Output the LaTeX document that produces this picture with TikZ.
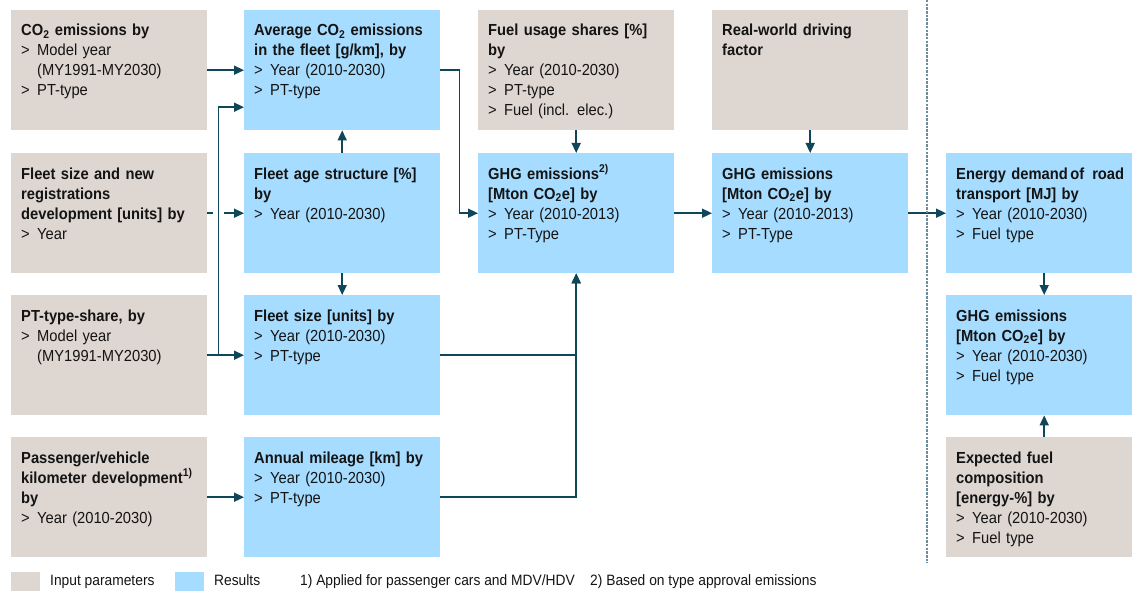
\documentclass[tikz,border=0pt]{standalone}
\usepackage{fontspec}
\setmainfont{Liberation Sans}[FakeStretch=0.92]
\usetikzlibrary{arrows.meta,calc}
\definecolor{inbg}{RGB}{222,214,208}
\definecolor{resbg}{RGB}{166,220,255}
\definecolor{conn}{RGB}{16,70,90}
\definecolor{divc}{RGB}{110,140,155}
\definecolor{txt}{RGB}{20,20,20}
\newcommand{\itm}[1]{\makebox[16pt][l]{>}#1}
\newcommand{\cnt}[1]{\hspace*{16pt}#1}
\newcommand{\cotwo}{CO\textsubscript{2}}
\newcommand{\bx}[4]{\node[#1] (#2) at #3 {};
  \node[btxt] (#2t) at ([xshift=10pt,yshift=-26pt]#2.north west) {#4};}
\begin{document}
\begin{tikzpicture}[x=1pt,y=-1pt,
  box/.style={draw=none,minimum width=196pt,minimum height=120pt,inner sep=0pt,anchor=north west},
  inbox/.style={box,fill=inbg},
  resbox/.style={box,fill=resbg},
  btxt/.style={anchor=base west,inner sep=0pt,text width=190pt,align=left,font=\fontsize{16}{20}\selectfont,text=txt},
  legtxt/.style={anchor=base west,inner sep=0pt,font=\fontsize{15}{17}\selectfont,text=txt},
  swatch/.style={anchor=north west,inner sep=0pt,minimum width=29pt,minimum height=22pt},
  ln/.style={draw=conn,line width=1.6pt},
  arr/.style={ln,-{Triangle[length=10pt,width=9pt]}},
  divider/.style={draw=divc,line width=1.4pt,dash pattern=on 2.5pt off 1.2pt}]
\fill[white] (0,0) rectangle (1132,591);
\useasboundingbox (0,0) rectangle (1132,591);
% column 1 (inputs)
\bx{inbox}{co2}{(11,10)}{{\bfseries \cotwo{} emissions by}\\\itm{Model year}\\\cnt{(MY1991-MY2030)}\\\itm{PT-type}}
\bx{inbox}{fleetnew}{(11,153)}{{\bfseries Fleet size and new\\registrations\\development [units] by}\\\itm{Year}}
\bx{inbox}{ptshare}{(11,295)}{{\bfseries PT-type-share, by}\\\itm{Model year}\\\cnt{(MY1991-MY2030)}}
\bx{inbox}{pkm}{(11,437)}{{\bfseries Passenger/vehicle\\kilometer development\textsuperscript{1)}\\by}\\\itm{Year (2010-2030)}}
% column 2 (results)
\bx{resbox}{avg}{(244,10)}{{\bfseries Average \cotwo{} emissions\\in the fleet [g/km], by}\\\itm{Year (2010-2030)}\\\itm{PT-type}}
\bx{resbox}{age}{(244,153)}{{\bfseries Fleet age structure [\%]\\by}\\\itm{Year (2010-2030)}}
\bx{resbox}{fsize}{(244,295)}{{\bfseries Fleet size [units] by}\\\itm{Year (2010-2030)}\\\itm{PT-type}}
\bx{resbox}{mileage}{(244,437)}{{\bfseries Annual mileage [km] by}\\\itm{Year (2010-2030)}\\\itm{PT-type}}
% column 3
\bx{inbox}{fuel}{(478,10)}{{\bfseries Fuel usage shares [\%]\\by}\\\itm{Year (2010-2030)}\\\itm{PT-type}\\\itm{Fuel (incl. elec.)}}
\bx{resbox}{ghga}{(478,153)}{{\bfseries GHG emissions\textsuperscript{2)}\\{}[Mton \cotwo{}e] by}\\\itm{Year (2010-2013)}\\\itm{PT-Type}}
% column 4
\bx{inbox}{rw}{(712,10)}{{\bfseries Real-world driving\\factor}}
\bx{resbox}{ghgb}{(712,153)}{{\bfseries GHG emissions\\{}[Mton \cotwo{}e] by}\\\itm{Year (2010-2013)}\\\itm{PT-Type}}
% column 5
\bx{resbox}{energy}{(946,153)}{{\bfseries Energy demand\hspace{2.5pt}of\hspace{8pt}road\\transport [MJ] by}\\\itm{Year (2010-2030)}\\\itm{Fuel type}}
\bx{resbox}{ghgc}{(946,295)}{{\bfseries GHG emissions\\{}[Mton \cotwo{}e] by}\\\itm{Year (2010-2030)}\\\itm{Fuel type}}
\bx{inbox}{expfuel}{(946,437)}{{\bfseries Expected fuel\\composition\\{}[energy-\%] by}\\\itm{Year (2010-2030)}\\\itm{Fuel type}}
% divider
\coordinate (divtop) at (927,0);
\coordinate (divbot) at (927,563);
% connectors
\draw[arr] (co2.east) -- (avg.west);
\draw[ln] (fleetnew.east) -- ++(6,0);
\draw[arr] ([xshift=-20pt]age.west) -- (age.west);
\draw[arr] (ptshare.east) -- (fsize.west);
\draw[arr] ([xshift=11pt]ptshare.east) |- ([yshift=-37pt]avg.west);
\draw[arr] (pkm.east) -- (mileage.west);
\draw[arr] (age.north) -- (avg.south);
\draw[arr] (age.south) -- (fsize.north);
\draw[arr] (avg.east) -- ++(19,0) |- (ghga.west);
\draw[arr] (fsize.east) -| (ghga.south);
\draw[arr] (mileage.east) -| (ghga.south);
\draw[arr] (fuel.south) -- (ghga.north);
\draw[arr] (rw.south) -- (ghgb.north);
\draw[arr] (ghga.east) -- (ghgb.west);
\draw[arr] (ghgb.east) -- (energy.west);
\draw[arr] (energy.south) -- (ghgc.north);
\draw[arr] (expfuel.north) -- (ghgc.south);
\draw[divider] (divtop) -- (divbot);
% legend
\node[swatch,fill=inbg] (legin) at (11,572) {};
\node[legtxt] (legint) at (50,585) {Input parameters};
\node[swatch,fill=resbg] (legres) at (175,572) {};
\node[legtxt] (legrest) at (214,585) {Results};
\node[legtxt] (fnone) at (300,585) {1) Applied for passenger cars and MDV/HDV};
\node[legtxt] (fntwo) at (590,585) {2) Based on type approval emissions};
\end{tikzpicture}
\end{document}
